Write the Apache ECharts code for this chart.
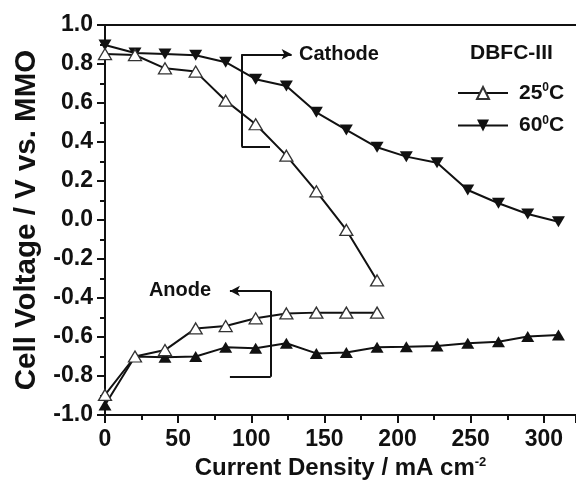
<!DOCTYPE html>
<html>
<head>
<meta charset="utf-8">
<script src="https://cdn.jsdelivr.net/npm/echarts@6/dist/echarts.min.js"></script>
<style>html,body{margin:0;padding:0;background:#fff}#c{width:576px;height:486px}</style>
</head>
<body>
<div id="c"></div>
<script>
// Current density (mA cm-2)
const currentShort = [0, 20.5, 41, 62, 82.5, 103, 124, 144.5, 165, 186];
const currentLong = [0, 20.5, 41, 62, 82.5, 103, 124, 144.5, 165, 186, 206, 227, 248, 269, 289, 310];
// Voltages (V vs. MMO)
const cathode25 = [0.851, 0.846, 0.778, 0.761, 0.612, 0.491, 0.330, 0.147, -0.051, -0.31];
const anode25 = [-0.897, -0.70, -0.667, -0.556, -0.544, -0.504, -0.479, -0.475, -0.475, -0.475];
const cathode60 = [0.897, 0.856, 0.851, 0.845, 0.809, 0.722, 0.687, 0.552, 0.462, 0.373, 0.325, 0.294, 0.154, 0.086, 0.031, -0.009];
const anode60 = [-0.949, -0.70, -0.704, -0.70, -0.653, -0.658, -0.632, -0.684, -0.68, -0.653, -0.65, -0.646, -0.632, -0.624, -0.598, -0.59];
// Axis ticks
const yTicks = { min: -1.0, max: 1.0, step: 0.2 };
const xTicks = { min: 0, max: 322, step: 50 };
// Annotation brackets (data coordinates)
const cathodeBracket = { x: 93.4, yTop: 0.85, yBottom: 0.376, arrowTo: 127.6, bottomTo: 112.8 };
const anodeBracket = { x: 113.3, yTop: -0.364, yBottom: -0.804, arrowTo: 85.4, bottomTo: 85.4 };
const annotationTexts = [[132.6, 0.85, 'Cathode'], [30, -0.364, 'Anode']];

const FONT = "'Liberation Sans', Arial, sans-serif";
const BLACK = '#111';
const downTri = 'path://M0,0 L20,0 L10,17 Z';
const upTri = 'path://M10,0 L20,17 L0,17 Z';

function zip(xs, ys) { return xs.map((x, i) => [x, ys[i]]); }

const openStyle = { color: '#fff', borderColor: '#333', borderWidth: 1.3 };
const fillStyle = { color: BLACK, borderColor: BLACK, borderWidth: 0 };
const lineStyle = { color: BLACK, width: 2 };

function seg(a, b, arrow) {
  return [{ coord: a, symbol: 'none' }, { coord: b, symbol: arrow ? 'arrow' : 'none' }];
}

const chart = echarts.init(document.getElementById('c'), null, { renderer: 'canvas' });
chart.setOption({
  animation: false,
  backgroundColor: '#fff',
  title: {
    text: 'DBFC-III', left: 470, top: 43, padding: 0,
    textStyle: { fontFamily: FONT, fontSize: 21, fontWeight: 'bold', color: BLACK }
  },
  legend: {
    data: ['25', '60'], orient: 'vertical', left: 452, top: 77,
    itemWidth: 50, itemHeight: 15, itemGap: 11, selectedMode: false,
    formatter: n => n + '{sup|0}C',
    textStyle: {
      fontFamily: FONT, fontSize: 21, fontWeight: 'bold', color: BLACK, padding: [0, 0, 0, 6],
      rich: { sup: { fontFamily: FONT, fontSize: 12, fontWeight: 'bold', color: BLACK, verticalAlign: 'top', padding: [0, 0, 10, 0] } }
    }
  },
  grid: { left: 105, right: 0, top: 25, bottom: 71, outerBoundsMode: 'none', containLabel: false },
  xAxis: [{
    type: 'value', min: xTicks.min, max: xTicks.max, interval: xTicks.step,
    axisLine: { show: true, onZero: false, lineStyle: { color: BLACK, width: 2 } },
    axisTick: { show: true, length: 8, lineStyle: { color: BLACK, width: 2 } },
    minorTick: { show: true, splitNumber: 2, length: 5, lineStyle: { color: BLACK, width: 2 } },
    splitLine: { show: false },
    axisLabel: { showMaxLabel: false, fontFamily: FONT, fontSize: 23, fontWeight: 'bold', color: BLACK, margin: 13 },
    name: 'Current Density / mA cm{sup|-2}', nameLocation: 'middle', nameGap: 25,
    nameTextStyle: {
      fontFamily: FONT, fontSize: 24, fontWeight: 'bold', color: BLACK,
      rich: { sup: { fontFamily: FONT, fontSize: 13, fontWeight: 'bold', color: BLACK, verticalAlign: 'top', padding: [0, 0, 12, 0] } }
    }
  }, {
    type: 'value', position: 'top', min: xTicks.min, max: xTicks.max,
    axisLine: { show: true, onZero: false, lineStyle: { color: BLACK, width: 2 } },
    axisTick: { show: false }, axisLabel: { show: false }, splitLine: { show: false }
  }],
  yAxis: [{
    type: 'value', min: yTicks.min, max: yTicks.max, interval: yTicks.step,
    axisLine: { show: true, onZero: false, lineStyle: { color: BLACK, width: 2 } },
    axisTick: { show: true, length: 8, lineStyle: { color: BLACK, width: 2 } },
    minorTick: { show: true, splitNumber: 2, length: 5, lineStyle: { color: BLACK, width: 2 } },
    splitLine: { show: false },
    axisLabel: { formatter: v => v.toFixed(1), fontFamily: FONT, fontSize: 23, fontWeight: 'bold', color: BLACK, margin: 12 },
    name: 'Cell Voltage / V vs. MMO', nameLocation: 'middle', nameGap: 63,
    nameTextStyle: { fontFamily: FONT, fontSize: 29.5, fontWeight: 'bold', color: BLACK }
  }],
  series: [
    { name: '25', type: 'line', data: zip(currentShort, cathode25), symbol: upTri, symbolSize: [13, 11],
      itemStyle: openStyle, lineStyle: lineStyle, clip: false, z: 3 },
    { name: '60', type: 'line', data: zip(currentLong, cathode60), symbol: downTri, symbolSize: [13, 11],
      itemStyle: fillStyle, lineStyle: lineStyle, clip: false, z: 2 },
    { name: '25', type: 'line', data: zip(currentShort, anode25), symbol: upTri, symbolSize: [13, 11],
      itemStyle: openStyle, lineStyle: lineStyle, clip: false, z: 3 },
    { name: '60', type: 'line', data: zip(currentLong, anode60), symbol: upTri, symbolSize: [13, 11],
      itemStyle: fillStyle, lineStyle: lineStyle, clip: false, z: 2 },
    { name: 'annot', type: 'scatter', data: annotationTexts, symbolSize: 0, silent: true,
      itemStyle: { opacity: 1, color: BLACK },
      label: { show: true, position: 'right', distance: 0, formatter: p => p.data[2],
        fontFamily: FONT, fontSize: 20, fontWeight: 'bold', color: BLACK, opacity: 1 },
      markLine: {
        silent: true, symbolSize: [8, 10], animation: false,
        lineStyle: { color: BLACK, width: 2, type: 'solid', opacity: 1 },
        label: { show: false },
        data: [
          seg([cathodeBracket.x, cathodeBracket.yTop], [cathodeBracket.x, cathodeBracket.yBottom], false),
          seg([cathodeBracket.x, cathodeBracket.yTop], [cathodeBracket.arrowTo, cathodeBracket.yTop], true),
          seg([cathodeBracket.x, cathodeBracket.yBottom], [cathodeBracket.bottomTo, cathodeBracket.yBottom], false),
          seg([anodeBracket.x, anodeBracket.yTop], [anodeBracket.x, anodeBracket.yBottom], false),
          seg([anodeBracket.x, anodeBracket.yTop], [anodeBracket.arrowTo, anodeBracket.yTop], true),
          seg([anodeBracket.x, anodeBracket.yBottom], [anodeBracket.bottomTo, anodeBracket.yBottom], false)
        ]
      }
    }
  ]
});
</script>
</body>
</html>
